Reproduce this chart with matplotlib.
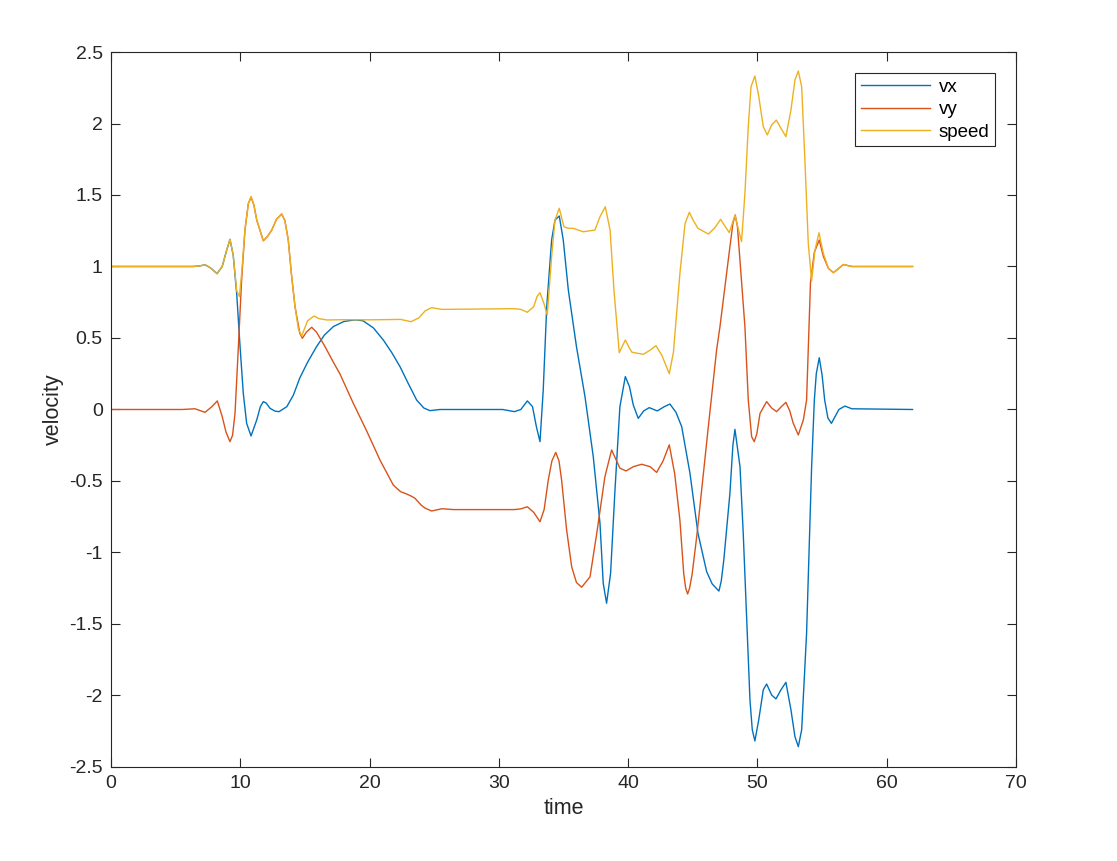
import matplotlib
matplotlib.use("Agg")
import matplotlib.pyplot as plt
from matplotlib.ticker import FuncFormatter

plt.rcParams['font.family'] = ['Liberation Sans', 'DejaVu Sans']
plt.rcParams['axes.unicode_minus'] = False

# values
t_vx = [0, 5, 6.3, 6.8, 7.27, 7.7, 8.2, 8.6, 8.9, 9.2, 9.45, 9.72, 9.98, 10.23, 10.49,
        10.83, 11.27, 11.55, 11.78, 12.0, 12.3, 12.7, 13.0, 13.6, 14.1, 14.6, 15.2, 15.9,
        16.5, 17.2, 18.0, 18.7, 19.0, 19.5, 20.3, 21.06, 21.7, 22.35, 23.0, 23.64, 24.2,
        24.67, 25.44, 30.3, 31.2, 31.7, 32.2, 32.6, 32.9, 33.18, 33.43, 33.7, 34.08, 34.34,
        34.67, 34.98, 35.37, 36.0, 36.66, 37.3, 37.82, 38.07, 38.33, 38.64, 38.98, 39.36,
        39.78, 40.1, 40.4, 40.78, 41.2, 41.63, 42.25, 42.8, 43.23, 43.7, 44.14, 44.78, 45.4,
        46.07, 46.5, 47.02, 47.2, 47.4, 47.87, 48.1, 48.26, 48.65, 48.9, 49.16, 49.42, 49.6,
        49.8, 50.1, 50.45, 50.71, 51.1, 51.43, 51.82, 52.2, 52.59, 52.9, 53.16, 53.42, 53.8,
        54.19, 54.4, 54.55, 54.78, 55.0, 55.2, 55.45, 55.72, 56.0, 56.3, 56.77, 57.3, 62]
vx = [1.0, 1.0, 1.0, 1.003, 1.012, 0.99, 0.95, 1.0, 1.1, 1.19, 1.08, 0.81, 0.44, 0.113, -0.097,
      -0.185, -0.073, 0.02, 0.055, 0.045, 0.008, -0.012, -0.015, 0.02, 0.1, 0.22, 0.33, 0.44,
      0.52, 0.58, 0.615, 0.625, 0.626, 0.62, 0.57, 0.486, 0.40, 0.30, 0.18, 0.066, 0.01,
      -0.008, 0.0, 0.0, -0.015, 0.0, 0.06, 0.02, -0.12, -0.225, 0.136, 0.719, 1.185, 1.325,
      1.353, 1.185, 0.836, 0.44, 0.09, -0.33, -0.796, -1.215, -1.355, -1.146, -0.563, 0.02,
      0.23, 0.16, 0.03, -0.062, -0.01, 0.013, -0.01, 0.02, 0.038, -0.02, -0.12, -0.446, -0.866,
      -1.134, -1.22, -1.27, -1.2, -1.05, -0.586, -0.25, -0.139, -0.40, -0.866, -1.449, -2.03, -2.24,
      -2.318, -2.17, -1.96, -1.92, -1.997, -2.024, -1.96, -1.908, -2.10, -2.288, -2.358, -2.24, -1.565,
      -0.40, 0.066, 0.25, 0.362, 0.24, 0.066, -0.06, -0.097, -0.05, 0.0, 0.024, 0.005, 0.0]

t_vy = [0, 5.5, 6.5, 7.27, 7.8, 8.22, 8.6, 8.9, 9.2, 9.4, 9.59, 9.85, 10.1, 10.36, 10.62,
        10.83, 11.05, 11.27, 11.78, 12.1, 12.43, 12.8, 13.2, 13.45, 13.71, 13.95, 14.23, 14.6,
        14.8, 15.1, 15.52, 15.9, 16.55, 17.2, 17.7, 18.74, 19.8, 20.8, 21.83, 22.4, 22.87,
        23.2, 23.5, 24.0, 24.3, 24.8, 25.6, 26.5, 31.2, 31.7, 32.2, 32.7, 33.18, 33.5, 33.82,
        34.1, 34.4, 34.65, 34.85, 35.24, 35.63, 36.0, 36.4, 37.05, 37.57, 38.2, 38.72, 39.36,
        39.83, 40.4, 41.04, 41.7, 42.2, 42.7, 43.18, 43.6, 44.0, 44.3, 44.45, 44.6, 44.75, 44.95,
        45.3, 45.55, 46.2, 46.84, 47.1, 47.87, 48.1, 48.28, 48.45, 48.6, 49.03, 49.29, 49.55,
        49.75, 49.95, 50.2, 50.71, 51.1, 51.48, 51.85, 52.2, 52.5, 52.77, 53.16, 53.55, 53.8,
        54.1, 54.4, 54.78, 55.1, 55.49, 55.87, 56.2, 56.64, 57.3, 62]
vy = [0.0, 0.0, 0.005, -0.02, 0.02, 0.06, -0.05, -0.16, -0.225, -0.18, -0.027, 0.44, 0.905, 1.255, 1.44,
      1.485, 1.43, 1.325, 1.18, 1.21, 1.255, 1.33, 1.367, 1.32, 1.185, 0.95, 0.72, 0.533,
      0.498, 0.54, 0.575, 0.54, 0.44, 0.33, 0.25, 0.043, -0.155, -0.353, -0.528, -0.575, -0.591,
      -0.605, -0.62, -0.67, -0.69, -0.71, -0.694, -0.70, -0.70, -0.695, -0.68, -0.72, -0.785, -0.70, -0.493,
      -0.36, -0.30, -0.36, -0.493, -0.843, -1.1, -1.21, -1.243, -1.17, -0.866, -0.47, -0.283, -0.41,
      -0.43, -0.40, -0.383, -0.40, -0.44, -0.36, -0.247, -0.45, -0.773, -1.15, -1.25, -1.29, -1.25, -1.15,
      -0.89, -0.678, -0.12, 0.416, 0.579, 1.138, 1.30, 1.36, 1.28, 1.10, 0.58, 0.066, -0.19,
      -0.225, -0.17, -0.027, 0.055, 0.01, -0.015, 0.02, 0.05, -0.01, -0.097, -0.178, -0.073, 0.066,
      0.885, 1.1, 1.185, 1.07, 0.987, 0.957, 0.98, 1.014, 1.0, 1.0]

t_speed = [0, 6.3, 6.8, 7.27, 7.7, 8.2, 8.6, 8.9, 9.2, 9.45, 9.72, 9.93, 10.1, 10.36, 10.62,
           10.83, 11.05, 11.27, 11.78, 12.1, 12.43, 12.8, 13.2, 13.45, 13.71, 13.95, 14.23, 14.5,
           14.75, 15.2, 15.7, 16.1, 16.7, 18, 20, 22.4, 23.2, 23.8, 24.3, 24.8, 25.6, 31.2, 31.7,
           32.2, 32.7, 32.95, 33.18, 33.49, 33.74, 34.08, 34.34, 34.67, 35.03, 35.37, 35.75, 36.53,
           37.43, 37.82, 38.23, 38.6, 38.9, 39.31, 39.78, 40.1, 40.3, 41.17, 41.7, 42.15, 42.6,
           43.18, 43.5, 44.0, 44.4, 44.73, 45.05, 45.4, 46.2, 46.7, 47.15, 47.5, 47.82, 48.05,
           48.26, 48.5, 48.77, 49.03, 49.29, 49.5, 49.8, 50.1, 50.45, 50.76, 51.1, 51.46, 51.82,
           52.2, 52.59, 52.9, 53.16, 53.42, 53.67, 53.93, 54.19, 54.45, 54.76, 55.1, 55.49, 55.87,
           56.2, 56.64, 57.3, 62]
speed = [1.0, 1.0, 1.003, 1.012, 0.99, 0.95, 1.0, 1.1, 1.19, 1.08, 0.83, 0.79, 0.95, 1.26, 1.44,
         1.49, 1.43, 1.325, 1.18, 1.21, 1.255, 1.33, 1.367, 1.32, 1.185, 0.95, 0.72, 0.56,
         0.515, 0.62, 0.654, 0.635, 0.626, 0.628, 0.627, 0.63, 0.614, 0.64, 0.69, 0.712, 0.70, 0.705, 0.70,
         0.68, 0.72, 0.79, 0.817, 0.74, 0.66, 1.07, 1.325, 1.407, 1.278, 1.267, 1.267, 1.243,
         1.255, 1.348, 1.418, 1.255, 0.836, 0.397, 0.486, 0.428, 0.40, 0.386, 0.415, 0.446, 0.38,
         0.25, 0.40, 0.95, 1.30, 1.379, 1.32, 1.267, 1.227, 1.27, 1.33, 1.28, 1.237, 1.30,
         1.36, 1.27, 1.174, 1.51, 1.978, 2.257, 2.332, 2.19, 1.978, 1.92, 1.99, 2.024, 1.966,
         1.908, 2.094, 2.304, 2.367, 2.257, 1.745, 1.162, 0.90, 1.115, 1.236, 1.09, 0.987, 0.957,
         0.98, 1.014, 1.0, 1.0]

fig = plt.figure(figsize=(11.17, 8.61), dpi=100)
ax = fig.add_axes([0.0994, 0.1092, 0.8102, 0.8304])

ax.plot(t_vx, vx, color='#0072BD', lw=1.0, label='vx')
ax.plot(t_vy, vy, color='#D95319', lw=1.0, label='vy')
ax.plot(t_speed, speed, color='#EDB120', lw=1.0, label='speed')

ax.set_xlim(0, 70)
ax.set_ylim(-2.5, 2.5)
ax.set_xticks(range(0, 71, 10))
ax.set_yticks([-2.5, -2, -1.5, -1, -0.5, 0, 0.5, 1, 1.5, 2, 2.5])
ax.yaxis.set_major_formatter(FuncFormatter(lambda v, p: ('%g' % v)))
ax.tick_params(direction='in', length=6.5, width=0.8, top=True, right=True,
               labelsize=14, pad=6, colors='#262626')
for s in ax.spines.values():
    s.set_color('#262626')
    s.set_linewidth(0.8)

ax.set_xlabel('time', fontsize=15.5, color='#262626')
ax.set_ylabel('velocity', fontsize=15.5, color='#262626')

leg = ax.legend(loc='upper right', bbox_to_anchor=(0.977, 0.9706), borderaxespad=0,
                fontsize=13.5, fancybox=False, framealpha=1, edgecolor='#262626',
                handlelength=3.7, borderpad=0.3, labelspacing=0.28, handletextpad=0.45)
leg.get_frame().set_linewidth(0.8)

fig.savefig('out.png', dpi=100)
